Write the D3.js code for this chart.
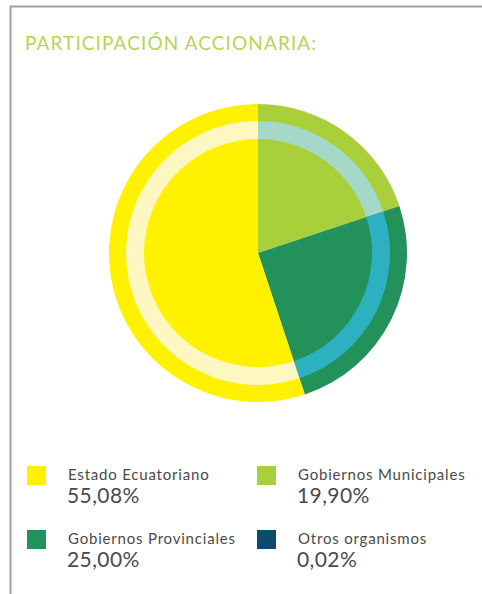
<!DOCTYPE html>
<html>
<head>
<meta charset="utf-8">
<script src="https://cdn.jsdelivr.net/npm/d3@7"></script>
<style>
  body { margin: 0; background: #fff; }
  svg { display: block; }
</style>
</head>
<body>
<svg class="chart" width="482" height="594"></svg>
<script>
// data, in drawing order (clockwise from 12 o'clock)
const categories = ["Gobiernos Municipales", "Gobiernos Provinciales", "Otros organismos", "Estado Ecuatoriano"];
const values = [19.90, 25.00, 0.02, 55.08];
const labels = ["19,90%", "25,00%", "0,02%", "55,08%"];

// legend order (row by row)
const legendOrder = ["Estado Ecuatoriano", "Gobiernos Municipales", "Gobiernos Provinciales", "Otros organismos"];

const colors = {
    "Estado Ecuatoriano": "#FFF100",
    "Gobiernos Municipales": "#A9CF3B",
    "Gobiernos Provinciales": "#23925A",
    "Otros organismos": "#0D4A6C"
};
const ringColors = {
    "Estado Ecuatoriano": "#FFF7C2",
    "Gobiernos Municipales": "#A5D8C6",
    "Gobiernos Provinciales": "#2DB0BF",
    "Otros organismos": "#2A7A9A"
};

const svg = d3.select(".chart");

// frame lines
svg.append("line")
    .attr("x1", 10).attr("x2", 482).attr("y1", 6.5).attr("y2", 6.5)
    .style("stroke", "#a0a0a0").style("stroke-width", 2);
svg.append("line")
    .attr("x1", 10.5).attr("x2", 10.5).attr("y1", 6).attr("y2", 594)
    .style("stroke", "#a0a0a0").style("stroke-width", 2);

svg.append("text")
    .attr("x", 25).attr("y", 50)
    .style("font-family", "Lato, 'Noto Sans', sans-serif")
    .style("font-size", "19px")
    .style("letter-spacing", "1.1px")
    .style("fill", "#B6D64F")
    .text("PARTICIPACIÓN ACCIONARIA:");

const data = categories.map((c, i) => ({name: c, value: values[i], label: labels[i]}));

const pie = d3.pie().sort(null).value((d) => d.value);
const arcs = pie(data);

const r = 149;
const g = svg.append("g").attr("transform", "translate(258,253)");

g.selectAll(".slice")
    .data(arcs)
    .enter().append("path")
    .attr("class", "slice")
    .attr("d", d3.arc().innerRadius(0).outerRadius(r))
    .style("fill", (d) => colors[d.data.name]);

g.selectAll(".ring")
    .data(arcs)
    .enter().append("path")
    .attr("class", "ring")
    .attr("d", d3.arc().innerRadius(114).outerRadius(132))
    .style("fill", (d) => ringColors[d.data.name]);

// legend
const legend = svg.selectAll(".legend")
    .data(legendOrder.map((n) => data.find((d) => d.name === n)))
    .enter().append("g")
    .attr("class", "legend")
    .attr("transform", (d, i) => `translate(${i % 2 ? 257 : 27},${i < 2 ? 466 : 530})`);

legend.append("rect")
    .attr("width", 19).attr("height", 19)
    .style("fill", (d) => colors[d.name]);

legend.append("text")
    .attr("x", 41).attr("y", 14)
    .style("font-family", "Lato, 'Noto Sans', sans-serif")
    .style("font-size", "15px")
    .style("letter-spacing", "0.8px")
    .style("fill", "#4a4a4a")
    .text((d) => d.name);

legend.append("text")
    .attr("x", 40).attr("y", 37)
    .style("font-family", "Lato, 'Noto Sans', sans-serif")
    .style("font-size", "21px")
    .style("letter-spacing", "0.4px")
    .style("fill", "#4a4a4a")
    .text((d) => d.label);
</script>
</body>
</html>
